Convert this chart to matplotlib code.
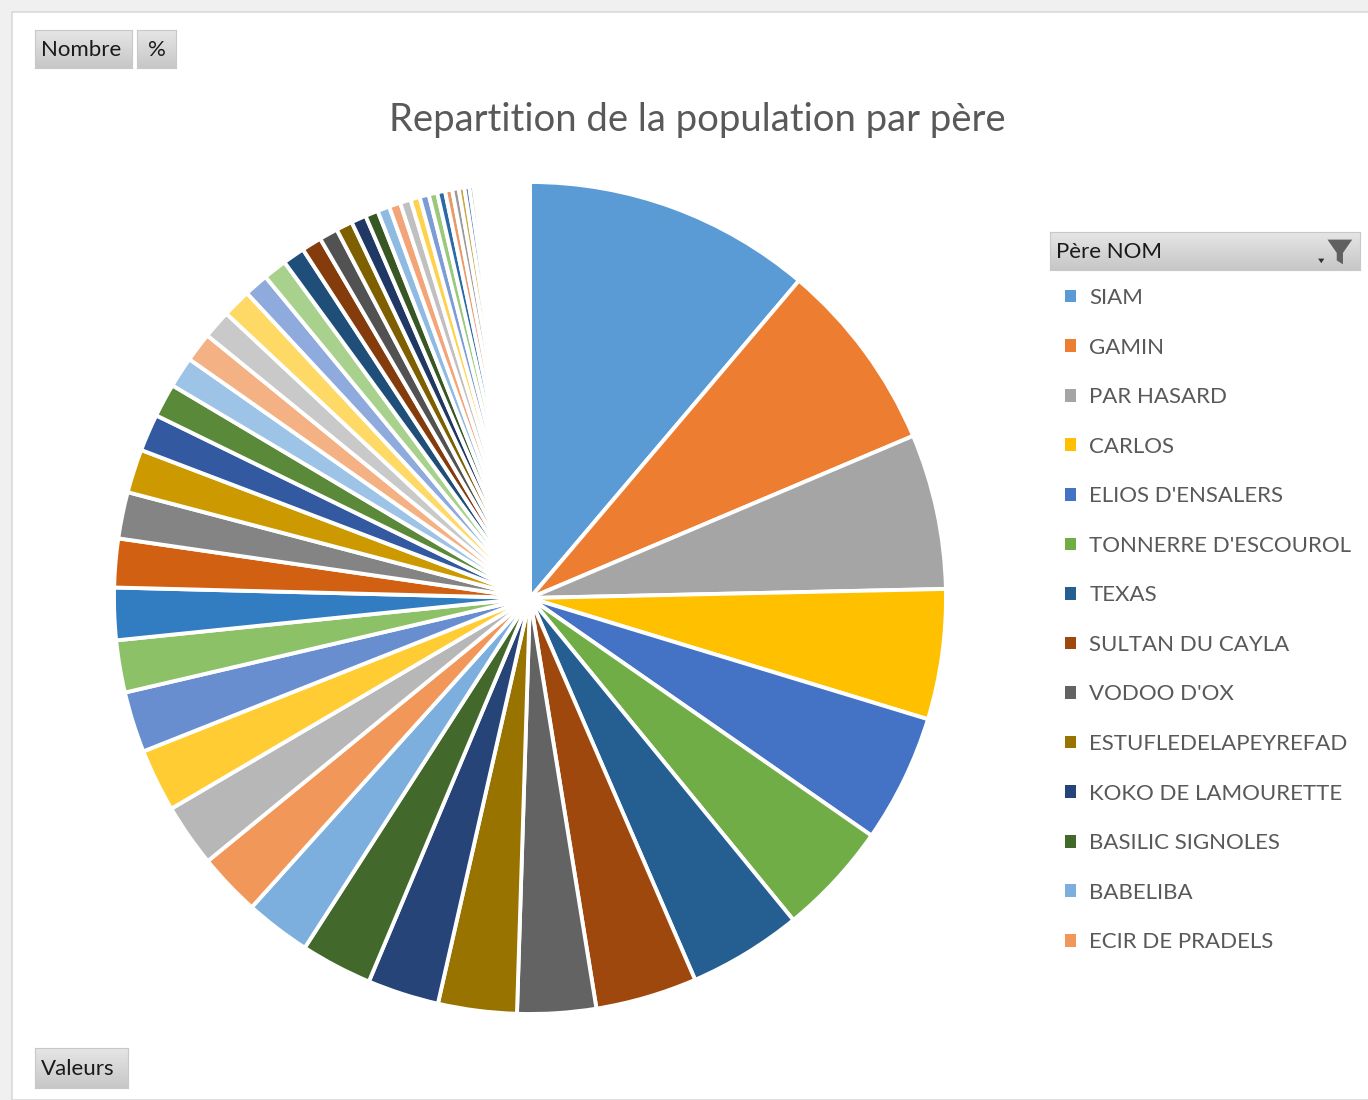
import numpy as np
import matplotlib.pyplot as plt
from matplotlib.patches import Rectangle, Polygon

plt.rcParams['font.family'] = ['Lato', 'DejaVu Sans']

# data (in degrees of the pie)
legend_names = ['SIAM', 'GAMIN', 'PAR HASARD', 'CARLOS', "ELIOS D'ENSALERS",
                "TONNERRE D'ESCOUROL", 'TEXAS', 'SULTAN DU CAYLA', "VODOO D'OX",
                'ESTUFLEDELAPEYREFAD', 'KOKO DE LAMOURETTE', 'BASILIC SIGNOLES',
                'BABELIBA', 'ECIR DE PRADELS']
values = [40.3, 26.8, 21.7, 18.2, 17.9, 15.9, 15.9, 14.2, 11.0, 11.0,
          10.0, 10.0, 9.2, 8.8, 8.8, 8.8, 8.5, 7.3, 7.3, 6.8,
          6.5, 6.1, 5.2, 4.7, 4.3, 4.1, 4.0, 4.0, 3.4, 3.3,
          3.1, 2.8, 2.6, 2.3, 2.1, 1.8, 1.7, 1.6, 1.5, 1.3,
          1.3, 1.2, 1.1, 1.0, 0.9, 0.8, 0.7, 0.6]
vide = 7.8  # blank part at the top

palette = ['#5B9BD5', '#ED7D31', '#A5A5A5', '#FFC000', '#4472C4', '#70AD47',
           '#255E91', '#9E480E', '#636363', '#997300', '#264478', '#43682B',
           '#7CAFDD', '#F1975A', '#B7B7B7', '#FFCD33', '#698ED0', '#8CC168',
           '#327DC2', '#D26012', '#848484', '#CC9A00', '#335AA1', '#5A8A39',
           '#9DC3E6', '#F4B183', '#C9C9C9', '#FFD966', '#8FAADC', '#A9D18E',
           '#1F4E79', '#843C0C', '#525252', '#7F6000', '#203864', '#385723',
           '#8FBBE3', '#F3A478', '#C0C0C0', '#FFD24D', '#7C9CD6', '#9BC97B',
           '#2A6AA8', '#E89A6A', '#9A9A9A', '#C9A640', '#5577B8', '#6E9E50']

W, H = 1368, 1100
fig = plt.figure(figsize=(W / 100, H / 100), dpi=100)
fig.patch.set_facecolor('#F0F0F0')

# white chart area
fig.patches.append(Rectangle((12 / W, 0), 1, 1 - 12 / H, transform=fig.transFigure,
                             facecolor='white', edgecolor='#D9D9D9', lw=1.2, zorder=-5))


def button(x0, y0, w, h, label):
    bax = fig.add_axes([x0 / W, 1 - (y0 + h) / H, w / W, h / H])
    grad = np.linspace(0.9, 0.78, 50).reshape(-1, 1)
    bax.imshow(np.dstack([grad, grad, grad]), aspect='auto', extent=(0, 1, 0, 1))
    bax.set_xlim(0, 1)
    bax.set_ylim(0, 1)
    bax.set_xticks([])
    bax.set_yticks([])
    for s in bax.spines.values():
        s.set_color('#C8C8C8')
    bax.text(0.06 if w > 60 else 0.5, 0.47, label, ha='left' if w > 60 else 'center',
             va='center', fontsize=16, color='#1A1A1A', family=['Lato', 'DejaVu Sans'])
    return bax


button(35, 30, 97, 38, 'Nombre')
button(137, 30, 39, 38, '%')
button(35, 1048, 93, 40, 'Valeurs')

# legend header
hax = button(1050, 232, 310, 38, 'Père NOM')
hax.texts[0].set_x(0.02)
hax.add_patch(Polygon([(0.895, 0.8), (0.975, 0.8), (0.945, 0.45), (0.945, 0.15),
                       (0.925, 0.25), (0.925, 0.45)], closed=True,
                      facecolor='#606060', edgecolor='none'))
hax.add_patch(Polygon([(0.865, 0.3), (0.885, 0.3), (0.875, 0.18)], closed=True,
                      facecolor='#303030', edgecolor='none'))

fig.text(697 / W, 1 - 120 / H, 'Repartition de la population par père',
         ha='center', va='center', fontsize=27.5, color='#595959')

R = 416
ax = fig.add_axes([(530 - R) / W, (H - 598 - R) / H, 2 * R / W, 2 * R / H])
wedges, _ = ax.pie(values + [vide], colors=palette[:len(values)] + ['white'],
                   startangle=90, counterclock=False, radius=1,
                   wedgeprops=dict(edgecolor='white', linewidth=2.8))
ax.set_xlim(-1, 1)
ax.set_ylim(-1, 1)
ax.set_aspect('equal')
ax.axis('off')

leg = fig.legend(wedges[:len(legend_names)], legend_names, loc='upper left',
                 bbox_to_anchor=(1045 / W, 1 - 268 / H), frameon=False,
                 fontsize=16, handlelength=0.5, handleheight=0.5,
                 handletextpad=0.6, labelspacing=1.33, labelcolor='#595959')
for h in leg.legend_handles:
    h.set_edgecolor('none')

fig.savefig('out.png', dpi=100, facecolor=fig.get_facecolor())
